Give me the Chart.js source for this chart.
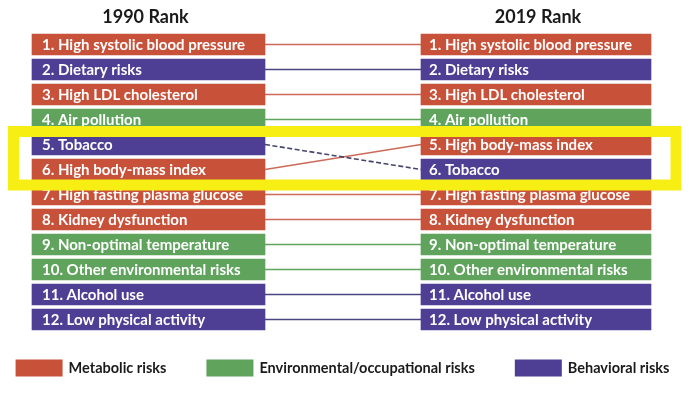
<!DOCTYPE html>
<html><head><meta charset="utf-8">
<style>html,body{margin:0;padding:0;background:#fff;}canvas{display:block}</style>
<script src="https://cdn.jsdelivr.net/npm/chart.js@4.4.1/dist/chart.umd.min.js"></script>
</head><body>
<canvas id="c" width="690" height="415"></canvas>
<script>
// ---- data ----
const ranks = ['1','2','3','4','5','6','7','8','9','10','11','12'];
const yearTitles = ['1990 Rank', '2019 Rank'];
const risks1990 = ['High systolic blood pressure','Dietary risks','High LDL cholesterol','Air pollution','Tobacco','High body-mass index','High fasting plasma glucose','Kidney dysfunction','Non-optimal temperature','Other environmental risks','Alcohol use','Low physical activity'];
const groups1990 = ['Metabolic risks','Behavioral risks','Metabolic risks','Environmental/occupational risks','Behavioral risks','Metabolic risks','Metabolic risks','Metabolic risks','Environmental/occupational risks','Environmental/occupational risks','Behavioral risks','Behavioral risks'];
const risks2019 = ['High systolic blood pressure','Dietary risks','High LDL cholesterol','Air pollution','High body-mass index','Tobacco','High fasting plasma glucose','Kidney dysfunction','Non-optimal temperature','Other environmental risks','Alcohol use','Low physical activity'];
const groups2019 = ['Metabolic risks','Behavioral risks','Metabolic risks','Environmental/occupational risks','Metabolic risks','Behavioral risks','Metabolic risks','Metabolic risks','Environmental/occupational risks','Environmental/occupational risks','Behavioral risks','Behavioral risks'];
const groupNames = ['Metabolic risks','Environmental/occupational risks','Behavioral risks'];
const highlightRanks = ['5','6'];

// ---- styles / layout ----
const COLORS = {
  'Metabolic risks': '#c8513a',
  'Environmental/occupational risks': '#5fa35d',
  'Behavioral risks': '#4e3f95'
};
const LINE_COLORS = {
  'Metabolic risks': '#cc6a57',
  'Environmental/occupational risks': '#5fa35d',
  'Behavioral risks': '#4a4680'
};
const LEFT_COL = [32, 265];
const RIGHT_COL = [421, 651];
const FONT = 'Lato, "Open Sans", sans-serif';

const datasets = [
  {type:'bar', label:'1990', data: ranks.map(() => LEFT_COL),
   backgroundColor: groups1990.map(g => COLORS[g]), barThickness: 21, grouped: false, borderWidth: 0},
  {type:'bar', label:'2019', data: ranks.map(() => RIGHT_COL),
   backgroundColor: groups2019.map(g => COLORS[g]), barThickness: 21, grouped: false, borderWidth: 0}
];
risks1990.forEach((r, i) => {
  const j = risks2019.indexOf(r);
  const moved = i !== j;
  const g = groups1990[i];
  datasets.push({
    type: 'line', label: r,
    data: [{x: LEFT_COL[1], y: ranks[i]}, {x: RIGHT_COL[0], y: ranks[j]}],
    borderColor: moved && g === 'Behavioral risks' ? '#45456e' : LINE_COLORS[g],
    borderWidth: moved ? 1.6 : 1.4,
    borderDash: moved && g === 'Behavioral risks' ? [5, 2.5] : [],
    pointRadius: 0, fill: false, tension: 0
  });
});

const overlay = {
  id: 'overlay',
  afterDatasetsDraw(chart) {
    const ctx = chart.ctx;
    const x = chart.scales.x, y = chart.scales.y;
    ctx.save();
    // labels inside boxes
    ctx.fillStyle = '#ffffff';
    ctx.font = 'bold 15px ' + FONT;
    ctx.textAlign = 'left';
    ctx.textBaseline = 'middle';
    [[0, risks1990, 10], [1, risks2019, 8]].forEach(([di, names, pad]) => {
      chart.getDatasetMeta(di).data.forEach((bar, i) => {
        ctx.fillText(ranks[i] + '. ' + names[i], Math.min(bar.x, bar.base) + pad, bar.y + 1);
      });
    });
    // column titles
    ctx.fillStyle = '#1a1a1a';
    ctx.font = 'bold 18px ' + FONT;
    ctx.textAlign = 'center';
    const t0 = chart.getDatasetMeta(0).data[0], t1 = chart.getDatasetMeta(1).data[0];
    ctx.fillText(yearTitles[0], (t0.x + t0.base) / 2 - 3, 17);
    ctx.fillText(yearTitles[1], (t1.x + t1.base) / 2 + 2, 17);
    // highlight box
    const yTop = y.getPixelForValue(ranks.indexOf(highlightRanks[0])) - 13;
    const yBot = y.getPixelForValue(ranks.indexOf(highlightRanks[1])) + 15.5;
    ctx.strokeStyle = '#f7ee14';
    ctx.lineWidth = 11;
    ctx.strokeRect(x.getPixelForValue(13.5), yTop, x.getPixelForValue(676) - x.getPixelForValue(13.5), yBot - yTop);
    // legend
    ctx.font = 'bold 14.5px ' + FONT;
    ctx.textAlign = 'left';
    ctx.textBaseline = 'middle';
    const boxW = 47, boxH = 17, gapText = 6, gapItem = 40;
    const widths = groupNames.map(n => boxW + gapText + ctx.measureText(n).width);
    const total = widths.reduce((a, b) => a + b, 0) + gapItem * (groupNames.length - 1);
    let lx = 342.5 - total / 2;
    const ly = 368;
    groupNames.forEach((n, i) => {
      ctx.fillStyle = COLORS[n];
      ctx.fillRect(lx, ly - boxH / 2, boxW, boxH);
      ctx.fillStyle = '#1a1a1a';
      ctx.fillText(n, lx + boxW + gapText, ly);
      lx += widths[i] + gapItem;
    });
    ctx.restore();
  }
};

new Chart(document.getElementById('c'), {
  data: { labels: ranks, datasets },
  options: {
    indexAxis: 'y',
    responsive: false,
    animation: false,
    layout: { padding: { top: 32, bottom: 83, left: 0, right: 0 } },
    scales: {
      x: { type: 'linear', min: 0, max: 690, display: false },
      y: { type: 'category', labels: ranks, offset: true, display: false }
    },
    plugins: { legend: { display: false }, title: { display: false }, tooltip: { enabled: false } }
  },
  plugins: [overlay]
});
</script>
</body></html>
